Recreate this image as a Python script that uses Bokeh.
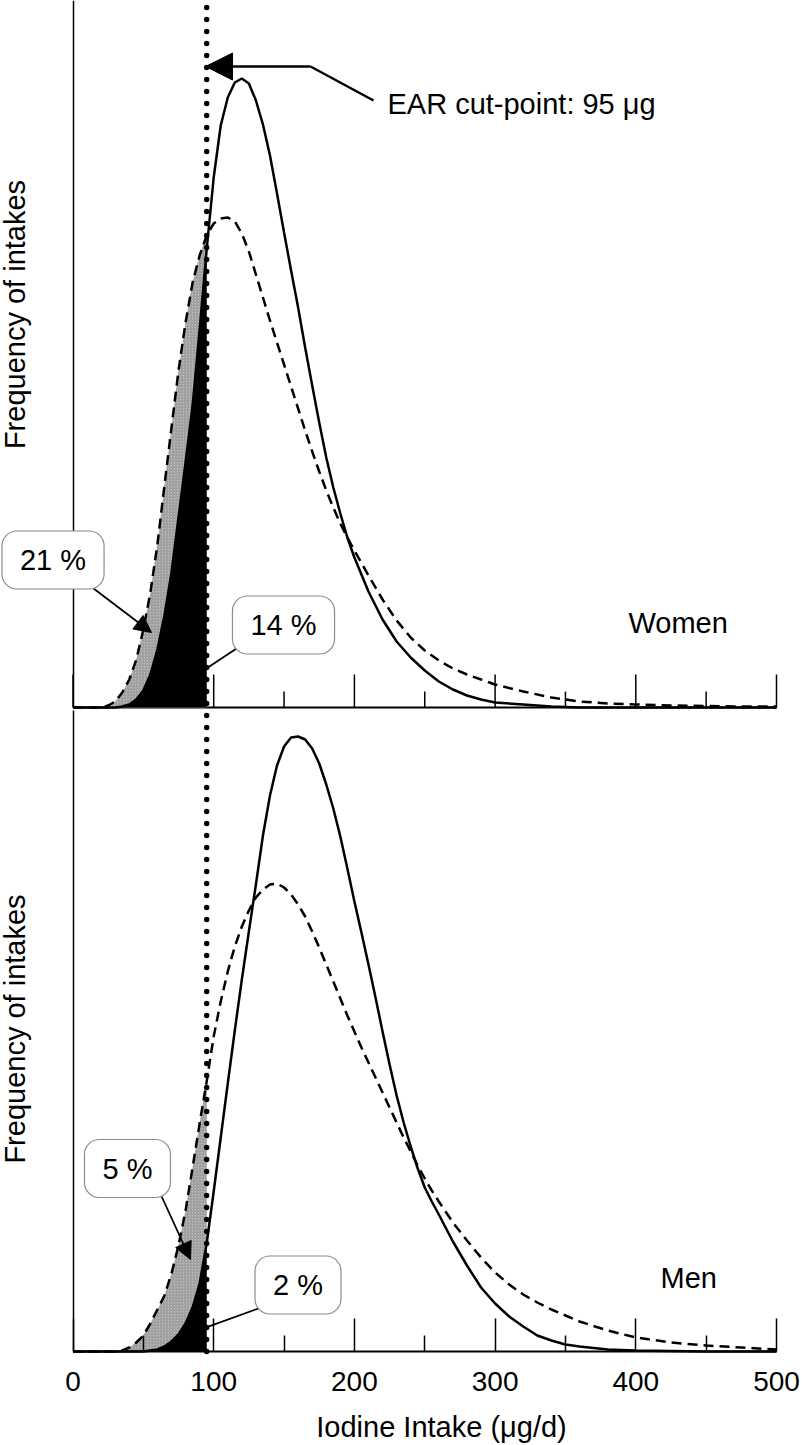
import math
from bokeh.plotting import figure
from bokeh.models import Label, Arrow, NormalHead, FixedTicker, Range1d, LinearAxis
from bokeh.embed import file_html
from bokeh.resources import INLINE

FONT = "Liberation Sans"

# ---------------- data (relative frequency, arbitrary units) ----------------
ear_cut_point = 95

major_ticks = [0, 100, 200, 300, 400, 500]
minor_ticks = [50, 150, 250, 350, 450]

women_solid_x = [0, 30, 35, 40, 45, 50, 55, 60, 65, 70, 75, 80, 85, 90, 95, 100, 105, 110, 115, 120,
                 125, 130, 135, 140, 145, 150, 155, 160, 165, 170, 175, 180, 185, 190, 195, 200, 210, 220, 230, 240,
                 250, 260, 270, 280, 290, 300, 320, 340, 360, 400, 450, 500]
women_solid_y = [0, 0, 0.01, 0.03, 0.08, 0.17, 0.33, 0.58, 0.92, 1.35, 1.90, 2.45, 3.02, 3.78, 4.58, 5.30, 5.82, 6.10, 6.25, 6.29,
                 6.24, 6.07, 5.83, 5.52, 5.14, 4.75, 4.37, 4.00, 3.60, 3.22, 2.85, 2.50, 2.20, 1.94, 1.70, 1.50, 1.16, 0.88, 0.66, 0.50,
                 0.37, 0.26, 0.18, 0.12, 0.08, 0.05, 0.03, 0.01, 0, 0, 0, 0]

women_dashed_x = [0, 20, 25, 30, 35, 40, 45, 50, 55, 60, 65, 70, 75, 80, 85, 90, 95, 100, 105, 110,
                  115, 120, 125, 130, 135, 140, 145, 150, 155, 160, 165, 170, 175, 180, 185, 190, 195, 200, 210, 220,
                  230, 240, 250, 260, 270, 280, 290, 300, 320, 340, 360, 380, 400, 425, 450, 475, 500]
women_dashed_y = [0, 0, 0.02, 0.06, 0.15, 0.28, 0.48, 0.78, 1.15, 1.63, 2.22, 2.80, 3.37, 3.85, 4.25, 4.52, 4.72, 4.84, 4.89, 4.90,
                  4.86, 4.74, 4.56, 4.33, 4.10, 3.87, 3.65, 3.43, 3.21, 2.99, 2.77, 2.56, 2.36, 2.17, 2.00, 1.84, 1.70, 1.57, 1.32, 1.08,
                  0.87, 0.70, 0.57, 0.47, 0.39, 0.33, 0.28, 0.23, 0.16, 0.10, 0.06, 0.04, 0.03, 0.02, 0.015, 0.01, 0.01]

men_solid_x = [0, 50, 60, 65, 70, 75, 80, 85, 90, 95, 100, 105, 110, 115, 120, 125, 130, 135, 140, 145,
               150, 155, 160, 165, 170, 175, 180, 185, 190, 195, 200, 205, 210, 215, 220, 225, 230, 235, 240, 245,
               250, 255, 260, 270, 280, 290, 300, 310, 320, 330, 340, 350, 360, 380, 400, 450, 500]
men_solid_y = [0, 0, 0.02, 0.05, 0.10, 0.17, 0.28, 0.44, 0.68, 1.08, 1.60, 2.14, 2.68, 3.21, 3.72, 4.20, 4.67, 5.16, 5.56, 5.86,
               6.05, 6.14, 6.15, 6.12, 6.03, 5.88, 5.67, 5.43, 5.15, 4.83, 4.50, 4.19, 3.87, 3.54, 3.20, 2.87, 2.56, 2.29, 2.05, 1.83,
               1.64, 1.50, 1.37, 1.10, 0.86, 0.64, 0.48, 0.35, 0.25, 0.16, 0.11, 0.07, 0.05, 0.02, 0.01, 0, 0]

men_dashed_x = [0, 30, 35, 40, 45, 50, 55, 60, 65, 70, 75, 80, 85, 90, 95, 100, 105, 110, 115, 120,
                125, 130, 135, 140, 145, 150, 155, 160, 165, 170, 175, 180, 185, 190, 195, 200, 205, 210, 215, 220,
                225, 230, 235, 240, 245, 250, 255, 260, 270, 280, 290, 300, 310, 320, 330, 340, 350, 360, 380, 400,
                425, 450, 475, 500]
men_dashed_y = [0, 0, 0.01, 0.04, 0.09, 0.16, 0.28, 0.42, 0.56, 0.78, 1.06, 1.41, 1.84, 2.28, 2.70, 3.15, 3.50, 3.80, 4.05, 4.25,
                4.41, 4.54, 4.62, 4.67, 4.68, 4.64, 4.57, 4.47, 4.35, 4.20, 4.04, 3.87, 3.70, 3.53, 3.36, 3.20, 3.04, 2.89, 2.74, 2.59,
                2.44, 2.29, 2.14, 2.00, 1.86, 1.73, 1.61, 1.50, 1.29, 1.11, 0.94, 0.79, 0.67, 0.57, 0.49, 0.42, 0.36, 0.30, 0.21, 0.14,
                0.09, 0.06, 0.04, 0.02]

pct_women = ["21 %", "14 %"]
pct_men = ["5 %", "2 %"]

# ---------------- figure: one frame holding both panels ----------------
MEN_TOP = 13.51      # men panel range end (frame top)
WOMEN_TOP = 7.07     # women panel range end (frame top)

p = figure(width=802, height=1445,
           x_range=Range1d(-51.53, 518.48), y_range=Range1d(-0.94, MEN_TOP),
           output_backend="svg", toolbar_location=None,
           min_border_left=0, min_border_right=0, min_border_top=0, min_border_bottom=0)
p.extra_y_ranges = {"women": Range1d(-7.38, WOMEN_TOP)}
p.outline_line_color = None
p.xgrid.visible = False
p.ygrid.visible = False
p.background_fill_color = "white"
p.border_fill_color = "white"

# y axis lines (no ticks) standing at x = 0
p.yaxis.ticker = FixedTicker(ticks=[])
p.yaxis.fixed_location = 0
p.yaxis.bounds = (0, 6.41)
p.yaxis.major_tick_out = 0
p.yaxis.minor_tick_out = 0
p.yaxis.axis_line_width = 1.5
p.yaxis.axis_line_color = "black"

women_axis = LinearAxis(y_range_name="women", ticker=FixedTicker(ticks=[]), fixed_location=0,
                        bounds=(0, WOMEN_TOP), major_tick_out=0, minor_tick_out=0,
                        axis_line_width=1.5, axis_line_color="black")
p.add_layout(women_axis, "left")

# shared x axis, drawn on the men baseline, ticks pointing inward
p.xaxis.fixed_location = 0
p.xaxis.ticker = FixedTicker(ticks=major_ticks, minor_ticks=minor_ticks)
p.xaxis.bounds = (0, 500)
p.xaxis.major_tick_in = 33
p.xaxis.major_tick_out = 0
p.xaxis.minor_tick_in = 16
p.xaxis.minor_tick_out = 0
p.xaxis.major_tick_line_width = 1.5
p.xaxis.minor_tick_line_width = 1.5
p.xaxis.major_tick_line_color = "black"
p.xaxis.minor_tick_line_color = "black"
p.xaxis.axis_line_width = 2
p.xaxis.axis_line_color = "black"
p.xaxis.major_label_text_font = FONT
p.xaxis.major_label_text_font_size = "28px"
p.xaxis.major_label_text_color = "black"
p.xaxis.major_label_standoff = 20

# baseline and inward ticks of the women panel
p.line([major_ticks[0], major_ticks[-1]], [0, 0], line_color="black", line_width=2, y_range_name="women")
p.segment(x0=major_ticks, y0=[0] * len(major_ticks), x1=major_ticks, y1=[0.33] * len(major_ticks),
          line_color="black", line_width=1.5, y_range_name="women")
p.segment(x0=minor_ticks, y0=[0] * len(minor_ticks), x1=minor_ticks, y1=[0.16] * len(minor_ticks),
          line_color="black", line_width=1.5, y_range_name="women")


def draw_panel(sx, sy, dx, dy, rng):
    gx = [x for x in dx if x <= ear_cut_point]
    gy = dy[:len(gx)]
    p.varea(x=gx, y1=[0] * len(gx), y2=gy, fill_color="#bdbdbd",
            hatch_pattern="/", hatch_color="#858585", hatch_scale=3, hatch_weight=0.8,
            y_range_name=rng)
    bx = [x for x in sx if x <= ear_cut_point]
    by = sy[:len(bx)]
    p.varea(x=bx, y1=[0] * len(bx), y2=by, fill_color="black", y_range_name=rng)
    p.line(dx, dy, line_color="black", line_width=2.5, line_dash="10 6", y_range_name=rng)
    p.line(sx, sy, line_color="black", line_width=2.5, y_range_name=rng)


def box_label(x, y, text, rng="default"):
    p.add_layout(Label(x=x, y=y, text=text, y_range_name=rng,
                       text_align="center", text_baseline="middle",
                       text_font=FONT, text_font_size="29px", text_color="black",
                       background_fill_color="white", border_line_color="#8c8c8c",
                       border_line_width=1.2, padding=dict(x=18, y=13), border_radius=15))


def plain_label(x, y, text, rng="default", angle=0, align="left"):
    p.add_layout(Label(x=x, y=y, text=text, y_range_name=rng, angle=angle, text_align=align,
                       text_baseline="alphabetic", text_font=FONT, text_font_size="29px",
                       text_color="black"))


def arrow(x0, y0, x1, y1, size, width, rng="default"):
    p.add_layout(Arrow(end=NormalHead(size=size, fill_color="black", line_color="black", line_width=1),
                       x_start=x0, y_start=y0, x_end=x1, y_end=y1, y_range_name=rng,
                       line_color="black", line_width=width))


draw_panel(women_solid_x, women_solid_y, women_dashed_x, women_dashed_y, "women")
draw_panel(men_solid_x, men_solid_y, men_dashed_x, men_dashed_y, "default")

# EAR cut-point: dotted vertical line through both panels
p.segment(x0=[ear_cut_point], y0=[0], x1=[ear_cut_point], y1=[MEN_TOP], line_color="black",
          line_width=5.5, line_dash="0 12", line_cap="round")

# ----- women annotations -----
p.line([213.6, 168.8], [6.07, 6.41], line_color="black", line_width=2.5, y_range_name="women")
arrow(168.8, 6.41, 94.2, 6.41, 27, 2.5, rng="women")
plain_label(223.5, 6.04, "EAR cut-point: 95 μg", rng="women")
arrow(14.6, 1.19, 55.8, 0.75, 17, 1.8, rng="women")
p.line([117.6, 95.6], [0.603, 0.397], line_color="black", line_width=1.8, y_range_name="women")
box_label(-14.2, 1.475, pct_women[0], rng="women")
box_label(149.6, 0.825, pct_women[1], rng="women")
plain_label(394.8, 0.85, "Women", rng="women")
plain_label(-41.1, 3.93, "Frequency of intakes", rng="women", angle=math.pi / 2, align="center")

# ----- men annotations -----
arrow(62.2, 1.575, 83.5, 0.92, 17, 1.8)
p.line([133.3, 94.2], [0.438, 0.238], line_color="black", line_width=1.8)
box_label(38.7, 1.83, pct_men[0])
box_label(159.9, 0.665, pct_men[1])
plain_label(417.6, 0.735, "Men")
plain_label(-41.1, 3.225, "Frequency of intakes", angle=math.pi / 2, align="center")

# x axis title
plain_label(261.9, -0.755, "Iodine Intake (μg/d)", align="center")

open("out.html", "w").write(file_html(p, INLINE))
